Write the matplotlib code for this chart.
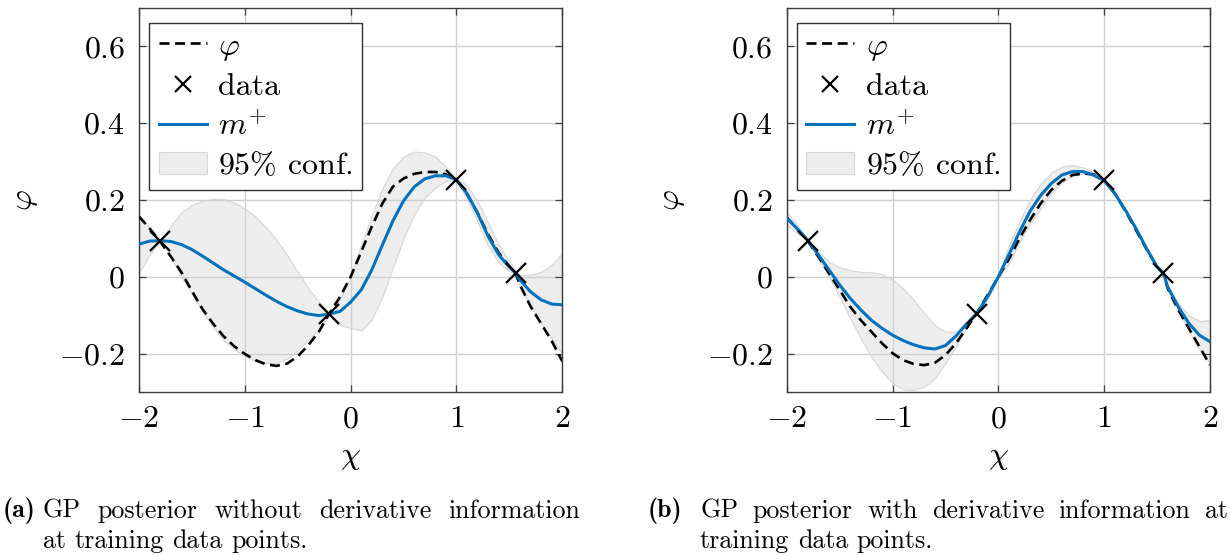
import matplotlib
matplotlib.use("Agg")
import matplotlib.pyplot as plt

plt.rcParams.update({
    "font.family": "serif",
    "font.serif": ["cmr10"],
    "mathtext.fontset": "cm",
    "axes.formatter.use_mathtext": True,
    "axes.unicode_minus": True,
})

# ---------------- data ----------------
x_grid = [-2.0, -1.9, -1.8, -1.7, -1.6, -1.5, -1.4, -1.3, -1.2, -1.1,
          -1.0, -0.9, -0.8, -0.7, -0.6, -0.5, -0.4, -0.3, -0.2, -0.1,
          0.0, 0.1, 0.2, 0.3, 0.4, 0.5, 0.6, 0.7, 0.8, 0.9,
          1.0, 1.1, 1.2, 1.3, 1.4, 1.5, 1.56, 1.6, 1.7, 1.8, 1.9, 2.0]

# true function phi (panel a / panel b)
phi_a = [0.157, 0.126, 0.092, 0.053, 0.012, -0.037, -0.084, -0.122, -0.155, -0.181,
         -0.201, -0.217, -0.228, -0.232, -0.226, -0.207, -0.178, -0.143, -0.095, -0.052,
         0.000, 0.065, 0.131, 0.191, 0.235, 0.256, 0.268, 0.273, 0.273, 0.267,
         0.252, 0.215, 0.166, 0.110, 0.062, 0.027, 0.008, -0.021, -0.077, -0.122, -0.167, -0.220]
phi_b = [0.155, 0.124, 0.093, 0.052, 0.009, -0.034, -0.078, -0.113, -0.143, -0.173,
         -0.199, -0.217, -0.227, -0.230, -0.224, -0.204, -0.173, -0.134, -0.093, -0.047,
         0.000, 0.046, 0.100, 0.148, 0.191, 0.226, 0.250, 0.265, 0.269, 0.267,
         0.252, 0.217, 0.172, 0.122, 0.072, 0.026, 0.008, -0.030, -0.086, -0.134, -0.182, -0.230]

# posterior mean m+
mean_a = [0.085, 0.093, 0.094, 0.092, 0.084, 0.071, 0.054, 0.036, 0.018, 0.002,
          -0.014, -0.031, -0.048, -0.064, -0.078, -0.089, -0.097, -0.101, -0.097, -0.090,
          -0.066, -0.034, 0.018, 0.083, 0.146, 0.198, 0.234, 0.255, 0.263, 0.263,
          0.253, 0.217, 0.165, 0.105, 0.057, 0.025, 0.010, -0.008, -0.039, -0.060, -0.071, -0.073]
mean_b = [0.153, 0.125, 0.095, 0.057, 0.018, -0.021, -0.056, -0.086, -0.113, -0.134,
          -0.152, -0.166, -0.177, -0.185, -0.188, -0.179, -0.154, -0.123, -0.094, -0.051,
          0.000, 0.058, 0.117, 0.171, 0.212, 0.243, 0.265, 0.274, 0.274, 0.265,
          0.250, 0.217, 0.174, 0.126, 0.074, 0.026, 0.010, -0.026, -0.078, -0.121, -0.152, -0.169]

# 95% confidence band
upper_a = [0.160, 0.128, 0.096, 0.132, 0.168, 0.187, 0.198, 0.203, 0.202, 0.193,
           0.178, 0.157, 0.129, 0.096, 0.057, 0.013, -0.030, -0.065, -0.095, -0.058,
           0.000, 0.083, 0.161, 0.230, 0.283, 0.313, 0.326, 0.324, 0.313, 0.287,
           0.254, 0.239, 0.196, 0.139, 0.083, 0.039, 0.011, 0.005, 0.005, 0.013, 0.031, 0.061]
lower_a = [0.010, 0.058, 0.092, 0.052, 0.000, -0.045, -0.090, -0.131, -0.166, -0.189,
           -0.206, -0.219, -0.225, -0.224, -0.213, -0.191, -0.164, -0.137, -0.099, -0.126,
           -0.133, -0.140, -0.112, -0.052, 0.024, 0.100, 0.162, 0.206, 0.232, 0.250,
           0.252, 0.202, 0.143, 0.081, 0.037, 0.015, 0.009, -0.026, -0.078, -0.121, -0.160, -0.200]
upper_b = [0.170, 0.135, 0.095, 0.066, 0.039, 0.025, 0.017, 0.013, 0.012, 0.007,
           -0.007, -0.030, -0.060, -0.095, -0.126, -0.143, -0.143, -0.117, -0.094, -0.046,
           0.004, 0.083, 0.144, 0.200, 0.243, 0.271, 0.287, 0.291, 0.285, 0.271,
           0.251, 0.219, 0.176, 0.128, 0.076, 0.028, 0.011, -0.022, -0.070, -0.100, -0.115, -0.113]
lower_b = [0.135, 0.113, 0.095, 0.048, 0.000, -0.052, -0.108, -0.160, -0.208, -0.247,
           -0.277, -0.293, -0.295, -0.286, -0.265, -0.225, -0.182, -0.130, -0.094, -0.056,
           -0.004, 0.035, 0.090, 0.139, 0.178, 0.218, 0.245, 0.263, 0.269, 0.262,
           0.249, 0.215, 0.172, 0.124, 0.072, 0.024, 0.009, -0.030, -0.086, -0.142, -0.189, -0.225]

# training data
data_x = [-1.8, -0.2, 1.0, 1.56]
data_y = [0.092, -0.097, 0.252, 0.010]

x_ticks = [-2, -1, 0, 1, 2]
y_ticks = [-0.2, 0, 0.2, 0.4, 0.6]
y_tick_labels = [r"$-0.2$", r"$0$", r"$0.2$", r"$0.4$", r"$0.6$"]
x_tick_labels = [r"$-2$", r"$-1$", r"$0$", r"$1$", r"$2$"]

captions = [
    ("(a)", ["GP posterior without derivative information", "at training data points."]),
    ("(b)", ["GP posterior with derivative information at", "training data points."]),
]

# ---------------- styling ----------------
BLUE = "#0072BD"
BAND = "#EDEDED"
BAND_EDGE = "#D6D6D6"
GRID = "#CFCFCF"
FS = 23
CAP_FS = 18.7

W, H = 1230, 556
fig = plt.figure(figsize=(W / 100, H / 100), dpi=100)
renderer = fig.canvas.get_renderer()

panels = [
    (139, phi_a, mean_a, lower_a, upper_a),
    (786.7, phi_b, mean_b, lower_b, upper_b),
]


def justified_line(x_px, x_end_px, y_px, text, justify):
    words = text.split(" ")
    arts = [fig.text(0, 1 - y_px / H, w, fontsize=CAP_FS, va="center") for w in words]
    widths = [a.get_window_extent(renderer).width for a in arts]
    space = arts[0].get_fontsize() * 100 / 72 * 0.333
    if justify and len(words) > 1:
        gap = (x_end_px - x_px - sum(widths)) / (len(words) - 1)
    else:
        gap = space
    cur = x_px
    for a, w in zip(arts, widths):
        a.set_x(cur / W)
        cur += w + gap


for i, (left_px, phi, mean, lo, up) in enumerate(panels):
    ax = fig.add_axes([left_px / W, 1 - 392 / H, 423.3 / W, 384 / H])
    ax.fill_between(x_grid, lo, up, facecolor=BAND, edgecolor=BAND_EDGE,
                    linewidth=0.8, zorder=1, label=r"$95\%$ conf.")
    l_phi, = ax.plot(x_grid, phi, color="black", lw=1.9, ls=(0, (3.8, 2.1)),
                     zorder=3, label=r"$\varphi$", dash_joinstyle="round")
    l_m, = ax.plot(x_grid, mean, color=BLUE, lw=2.2, zorder=4, label=r"$m^{+}$",
                   solid_joinstyle="round")
    l_d, = ax.plot(data_x, data_y, ls="none", marker="x", ms=14, mew=1.6,
                   color="black", zorder=5, label="data")

    ax.set_xlim(-2, 2)
    ax.set_ylim(-0.3, 0.7)
    ax.set_xticks(x_ticks)
    ax.set_xticklabels(x_tick_labels)
    ax.set_yticks(y_ticks)
    ax.set_yticklabels(y_tick_labels)
    ax.grid(True, color=GRID, lw=1.0)
    ax.tick_params(direction="in", length=5, width=0.9, color="#404040",
                   top=True, right=True, labelsize=FS)
    ax.tick_params(axis="x", pad=10)
    ax.tick_params(axis="y", pad=10)
    for sp in ax.spines.values():
        sp.set_color("#3a3a3a")
        sp.set_linewidth(1.0)

    ax.set_xlabel(r"$\chi$", fontsize=FS, labelpad=8)
    ax.set_ylabel(r"$\varphi$", fontsize=FS, labelpad=14)

    handles = [l_phi, l_d, l_m, ax.collections[0]]
    labels = [h.get_label() for h in handles]
    leg = ax.legend(handles, labels, loc="upper left", bbox_to_anchor=(0.024, 0.962),
                    borderaxespad=0, fontsize=FS, frameon=True, fancybox=False,
                    framealpha=1, edgecolor="#333333", handlelength=1.5,
                    handletextpad=0.35, labelspacing=0.32, borderpad=0.3,
                    markerscale=0.8)
    leg.get_frame().set_linewidth(1.0)

    tag, lines = captions[i]
    x0 = 3 if i == 0 else 648
    x1 = 43 if i == 0 else 700
    x_end = 580 if i == 0 else 1228
    fig.text(x0 / W, 1 - 511 / H, tag, fontsize=CAP_FS, fontfamily="cmb10", va="center")
    justified_line(x1, x_end, 511, lines[0], True)
    justified_line(x1, x_end, 541, lines[1], False)

fig.savefig("out.png", dpi=100)
